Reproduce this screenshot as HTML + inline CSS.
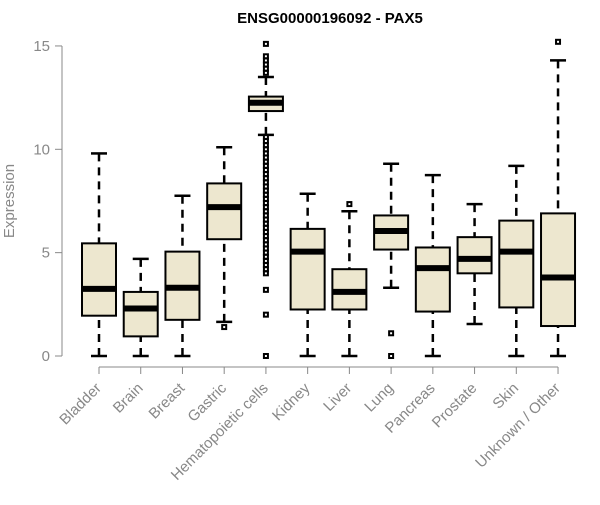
<!DOCTYPE html>
<html><head><meta charset="utf-8"><style>
body{margin:0;background:#fff;font-family:"Liberation Sans",sans-serif}
</style></head><body>
<svg id="c" width="600" height="500" xmlns="http://www.w3.org/2000/svg"></svg>
<script>
const categories=["Bladder","Brain","Breast","Gastric","Hematopoietic cells","Kidney","Liver","Lung","Pancreas","Prostate","Skin","Unknown / Other"];
const whiskerLow=[0,0,0,1.65,10.7,0,0,3.3,0,1.55,0,0];
const q1=[1.95,0.95,1.75,5.65,11.85,2.25,2.25,5.15,2.15,4.0,2.35,1.45];
const medians=[3.25,2.3,3.3,7.2,12.25,5.05,3.1,6.05,4.25,4.7,5.05,3.8];
const q3=[5.45,3.1,5.05,8.35,12.55,6.15,4.2,6.8,5.25,5.75,6.55,6.9];
const whiskerHigh=[9.8,4.7,7.75,10.1,13.5,7.85,7.0,9.3,8.75,7.35,9.2,14.3];
const outliers=[[],[],[],[1.4],[15.1,14.5,14.3,14.1,13.9,13.7,10.6,10.4,10.2,10.0,9.8,9.6,9.4,9.2,9.0,8.8,8.6,8.4,8.2,8.0,7.8,7.6,7.4,7.2,7.0,6.8,6.6,6.4,6.2,6.0,5.8,5.6,5.4,5.2,5.0,4.8,4.6,4.4,4.2,4.0,3.2,2.0,0],[],[7.35],[1.1,0],[],[],[],[15.2]];
const yTicks=[0,5,10,15];
const NS="http://www.w3.org/2000/svg";
const svg=document.getElementById('c');
function y(v){return 356-v*20.67;}
function x(i){return 99+i*41.73;}
function el(t,a,p){const e=document.createElementNS(NS,t);for(const k in a)e.setAttribute(k,a[k]);(p||svg).appendChild(e);return e;}
let t=el('text',{x:330,y:23,'text-anchor':'middle','font-size':15,'font-weight':'bold',fill:'#000'});t.textContent="ENSG00000196092 - PAX5";


let ya=el('line',{x1:62,x2:62,y1:y(0),y2:y(15),stroke:'#888'});


yTicks.forEach(v=>{
  el('line',{x1:55,x2:62,y1:y(v),y2:y(v),stroke:'#888'});
  let l=el('text',{x:50,y:y(v)+5,'text-anchor':'end','font-size':15,fill:'#888'});l.textContent=v;
  
  
});
let yt=el('text',{x:14,y:201,'text-anchor':'middle','font-size':15,fill:'#888',transform:'rotate(-90 14 201)'});yt.textContent="Expression";


let xa=el('line',{x1:x(0),x2:x(11),y1:367,y2:367,stroke:'#888'});


categories.forEach((c,i)=>{
  const cx=x(i),w=17;
  el('line',{x1:cx,x2:cx,y1:367,y2:374,stroke:'#888'});
  let l=el('text',{x:cx+3,y:389,'text-anchor':'end','font-size':15,fill:'#888',transform:`rotate(-45 ${cx+3} 389)`});l.textContent=c;
  
  
  const g=el('g',{});
  
  
  el('line',{x1:cx,x2:cx,y1:y(whiskerLow[i]),y2:y(q1[i]),stroke:'#000','stroke-width':2.5,'stroke-dasharray':'8,6'},g);
  el('line',{x1:cx,x2:cx,y1:y(whiskerHigh[i]),y2:y(q3[i]),stroke:'#000','stroke-width':2.5,'stroke-dasharray':'8,6'},g);
  el('line',{x1:cx-8,x2:cx+8,y1:y(whiskerLow[i]),y2:y(whiskerLow[i]),stroke:'#000','stroke-width':2.5},g);
  el('line',{x1:cx-8,x2:cx+8,y1:y(whiskerHigh[i]),y2:y(whiskerHigh[i]),stroke:'#000','stroke-width':2.5},g);
  el('rect',{x:cx-w,y:y(q3[i]),width:2*w,height:y(q1[i])-y(q3[i]),fill:'#ede7cf',stroke:'#000','stroke-width':2},g);
  el('line',{x1:cx-w,x2:cx+w,y1:y(medians[i]),y2:y(medians[i]),stroke:'#000','stroke-width':6},g);
  outliers[i].forEach(v=>{
    const o=el('rect',{x:cx-2,y:y(v)-2,width:4,height:4,fill:'none',stroke:'#000','stroke-width':2},g);
    
    
  });
});
</script>
</body></html>
